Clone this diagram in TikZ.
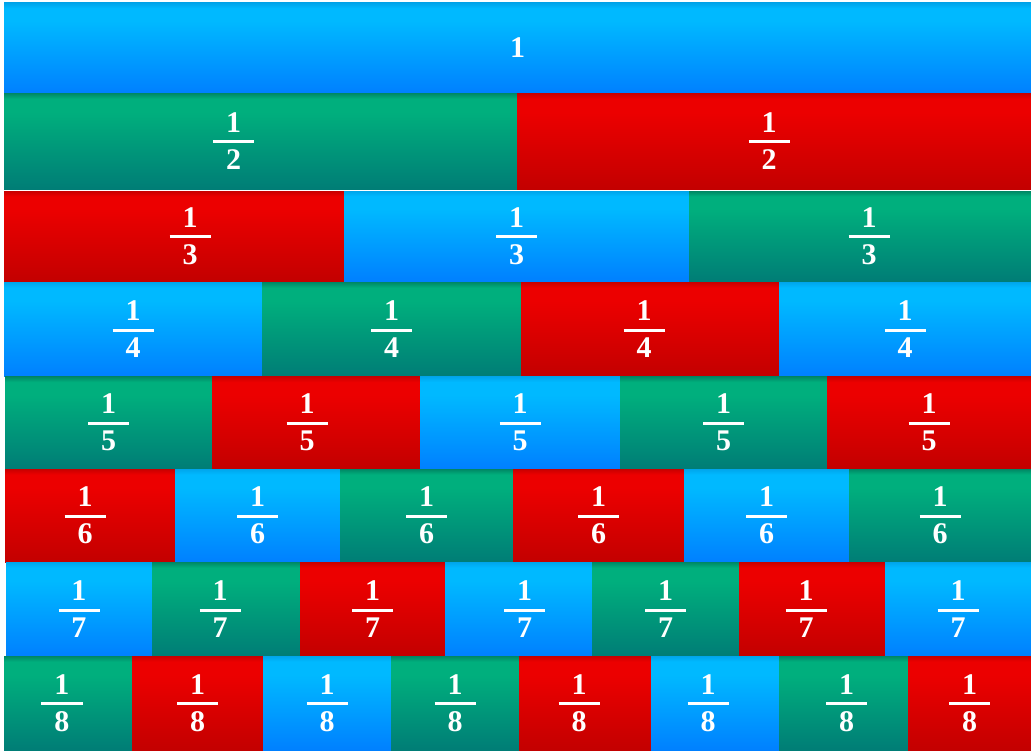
\documentclass[tikz,border=0pt]{standalone}
\usepackage{fontspec}
\setmainfont{Liberation Serif}
\usepackage{xcolor}
\usetikzlibrary{positioning}

\definecolor{blueT}{RGB}{0,165,235}
\definecolor{blueL}{RGB}{0,185,255}
\definecolor{blueB}{RGB}{0,128,255}
\definecolor{greenT}{RGB}{0,135,100}
\definecolor{greenL}{RGB}{0,175,125}
\definecolor{greenB}{RGB}{0,125,118}
\definecolor{redT}{RGB}{200,0,0}
\definecolor{redL}{RGB}{236,0,0}
\definecolor{redB}{RGB}{195,0,0}

\pgfdeclareverticalshading{blueshade}{100bp}{color(0bp)=(blueB); color(25bp)=(blueB); color(65bp)=(blueL); color(72bp)=(blueL); color(75bp)=(blueT); color(100bp)=(blueT)}
\pgfdeclareverticalshading{greenshade}{100bp}{color(0bp)=(greenB); color(25bp)=(greenB); color(65bp)=(greenL); color(72bp)=(greenL); color(75bp)=(greenT); color(100bp)=(greenT)}
\pgfdeclareverticalshading{redshade}{100bp}{color(0bp)=(redB); color(25bp)=(redB); color(65bp)=(redL); color(72bp)=(redL); color(75bp)=(redT); color(100bp)=(redT)}

% unit fraction 1/n
\newcommand{\unitfrac}[1]{\vbox{\offinterlineskip\halign{\hfil##\hfil\cr 1\cr\noalign{\kern8pt}\rule{41pt}{3pt}\cr\noalign{\kern6pt}#1\cr}}}

\tikzset{
  bar/.style={rectangle, inner sep=0pt, text=white, shade, font=\bfseries\fontsize{30}{36}\selectfont},
  bluebar/.style={bar, shading=blueshade},
  greenbar/.style={bar, shading=greenshade},
  redbar/.style={bar, shading=redshade}
}

\begin{document}
\begin{tikzpicture}[x=1pt, y=-1pt]
    \useasboundingbox[fill=white] (0,0) rectangle (1031,752);

    % Whole
    \node[bluebar, minimum width=1027pt, minimum height=90pt] (w1) at (517.5,48) {1};

    % Halves
    \node[greenbar, minimum width=513pt, minimum height=96pt] (h1) at (260.5,141) {\unitfrac{2}\hspace*{54pt}};
    \node[redbar, minimum width=514pt, minimum height=96pt] (h2) at (774,141) {\unitfrac{2}\hspace*{10pt}};

    % Thirds
    \node[redbar, minimum width=340pt, minimum height=90pt] (t1) at (174,236) {\hspace*{32pt}\unitfrac{3}};
    \node[bluebar, minimum width=345pt, minimum height=90pt] (t2) at (516.5,236) {\unitfrac{3}};
    \node[greenbar, minimum width=342pt, minimum height=90pt] (t3) at (860,236) {\hspace*{18pt}\unitfrac{3}};

    % Quarters
    \node[bluebar, minimum width=258pt, minimum height=94pt] (q1) at (133,329) {\unitfrac{4}};
    \node[greenbar, minimum width=259pt, minimum height=94pt] (q2) at (391.5,329) {\unitfrac{4}};
    \node[redbar, minimum width=258pt, minimum height=94pt] (q3) at (650,329) {\unitfrac{4}\hspace*{12pt}};
    \node[bluebar, minimum width=252pt, minimum height=94pt] (q4) at (905,329) {\unitfrac{4}};

    % Fifths
    \node[greenbar, minimum width=207pt, minimum height=92pt] (f1) at (108.5,422.5) {\unitfrac{5}};
    \node[redbar, minimum width=208pt, minimum height=92pt] (f2) at (316,422.5) {\unitfrac{5}\hspace*{18pt}};
    \node[bluebar, minimum width=200pt, minimum height=92pt] (f3) at (520,422.5) {\unitfrac{5}};
    \node[greenbar, minimum width=207pt, minimum height=92pt] (f4) at (723.5,422.5) {\unitfrac{5}};
    \node[redbar, minimum width=204pt, minimum height=92pt] (f5) at (929,422.5) {\unitfrac{5}};

    % Sixths
    \node[redbar, minimum width=170pt, minimum height=93pt] (s1) at (90,515.5) {\unitfrac{6}\hspace*{10pt}};
    \node[bluebar, minimum width=165pt, minimum height=93pt] (s2) at (257.5,515.5) {\unitfrac{6}};
    \node[greenbar, minimum width=173pt, minimum height=93pt] (s3) at (426.5,515.5) {\unitfrac{6}};
    \node[redbar, minimum width=171pt, minimum height=93pt] (s4) at (598.5,515.5) {\unitfrac{6}};
    \node[bluebar, minimum width=165pt, minimum height=93pt] (s5) at (766.5,515.5) {\unitfrac{6}};
    \node[greenbar, minimum width=182pt, minimum height=93pt] (s6) at (940,515.5) {\unitfrac{6}};

    % Sevenths
    \node[bluebar, minimum width=146pt, minimum height=94pt] (v1) at (79,609) {\unitfrac{7}};
    \node[greenbar, minimum width=148pt, minimum height=94pt] (v2) at (226,609) {\unitfrac{7}\hspace*{12pt}};
    \node[redbar, minimum width=145pt, minimum height=94pt] (v3) at (372.5,609) {\unitfrac{7}};
    \node[bluebar, minimum width=147pt, minimum height=94pt] (v4) at (518.5,609) {\hspace*{12pt}\unitfrac{7}};
    \node[greenbar, minimum width=147pt, minimum height=94pt] (v5) at (665.5,609) {\unitfrac{7}};
    \node[redbar, minimum width=146pt, minimum height=94pt] (v6) at (812,609) {\unitfrac{7}\hspace*{12pt}};
    \node[bluebar, minimum width=146pt, minimum height=94pt] (v7) at (958,609) {\unitfrac{7}};

    % Eighths
    \node[greenbar, minimum width=128pt, minimum height=94pt] (e1) at (68,703) {\unitfrac{8}\hspace*{12pt}};
    \node[redbar, minimum width=131pt, minimum height=94pt] (e2) at (197.5,703) {\unitfrac{8}};
    \node[bluebar, minimum width=128pt, minimum height=94pt] (e3) at (327,703) {\unitfrac{8}};
    \node[greenbar, minimum width=128pt, minimum height=94pt] (e4) at (455,703) {\unitfrac{8}};
    \node[redbar, minimum width=132pt, minimum height=94pt] (e5) at (585,703) {\unitfrac{8}\hspace*{12pt}};
    \node[bluebar, minimum width=128pt, minimum height=94pt] (e6) at (715,703) {\unitfrac{8}\hspace*{14pt}};
    \node[greenbar, minimum width=129pt, minimum height=94pt] (e7) at (843.5,703) {\hspace*{6pt}\unitfrac{8}};
    \node[redbar, minimum width=123pt, minimum height=94pt] (e8) at (969.5,703) {\unitfrac{8}};
\end{tikzpicture}
\end{document}
